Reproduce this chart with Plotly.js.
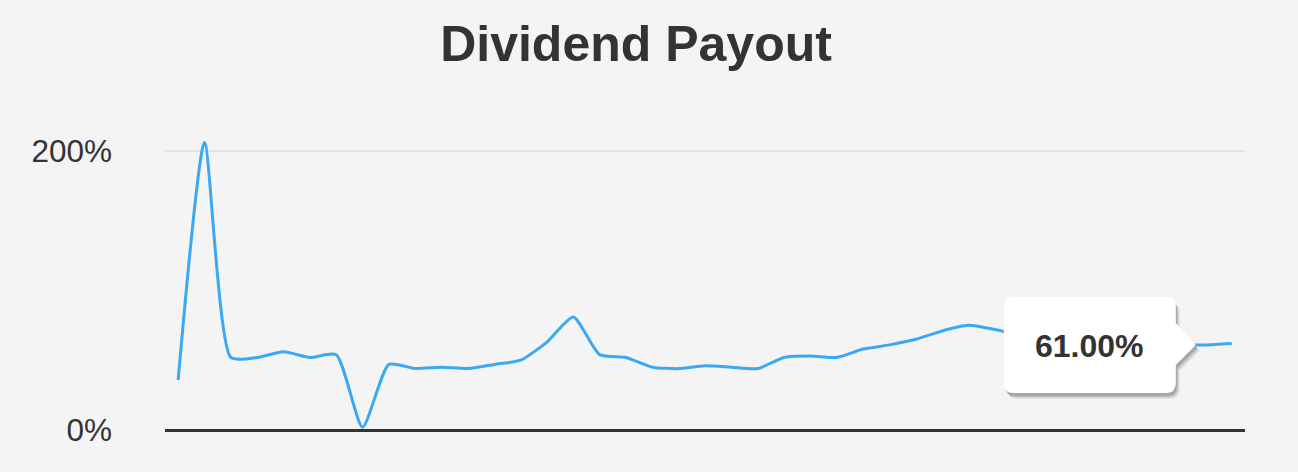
<!DOCTYPE html>
<html>
<head>
<meta charset="utf-8">
<script src="https://cdn.plot.ly/plotly-3.0.1.min.js"></script>
<style>
  html, body { margin: 0; padding: 0; background: #f4f4f4; }
  #chart { width: 1298px; height: 472px; }
</style>
</head>
<body>
<div id="chart"></div>
<script>
// ---- data ----
const periods = [
  "2014Q1","2014Q2","2014Q3","2014Q4","2015Q1","2015Q2","2015Q3","2015Q4",
  "2016Q1","2016Q2","2016Q3","2016Q4","2017Q1","2017Q2","2017Q3","2017Q4",
  "2018Q1","2018Q2","2018Q3","2018Q4","2019Q1","2019Q2","2019Q3","2019Q4",
  "2020Q1","2020Q2","2020Q3","2020Q4","2021Q1","2021Q2","2021Q3","2021Q4",
  "2022Q1","2022Q2","2022Q3","2022Q4","2023Q1","2023Q2","2023Q3","2023Q4",
  "2024Q1"
];
const payoutPct = [
  36, 206, 52, 52, 56, 52, 54, 2, 47, 44,
  45, 44, 47, 50, 63, 81, 54, 52, 45, 44,
  46, 45, 44, 52, 53, 52, 58, 61, 65, 71,
  75, 72, 68, 66, 65, 64, 63, 62, 61, 61,
  62
];
const yTickVals = [0, 200];
const yTickText = ["0%", "200%"];
const calloutValue = 61;
const calloutText = "61.00%";

// ---- callout shape (pixel offsets relative to the data anchor) ----
function calloutPath(dx, dy) {
  const L = -228 + dx, R = -56 + dx, T = 48 + dy, B = -48 + dy, r = 10;
  const tipX = -36 + dx, tipY = 0 + dy;
  return "M" + (L + r) + "," + T +
    " L" + (R - r) + "," + T +
    " Q" + R + "," + T + " " + R + "," + (T - r) +
    " L" + R + "," + (22 + dy) +
    " L" + tipX + "," + tipY +
    " L" + R + "," + (-20 + dy) +
    " L" + R + "," + (B + r) +
    " Q" + R + "," + B + " " + (R - r) + "," + B +
    " L" + (L + r) + "," + B +
    " Q" + L + "," + B + " " + L + "," + (B + r) +
    " L" + L + "," + (T - r) +
    " Q" + L + "," + T + " " + (L + r) + "," + T + " Z";
}
const anchorX = periods[periods.length - 1];
const shadowLayers = [
  {dx: 4, dy: -6, op: 0.06},
  {dx: 3, dy: -5, op: 0.08},
  {dx: 2, dy: -4, op: 0.10},
  {dx: 1, dy: -3, op: 0.12}
];
const shapes = shadowLayers.map(s => ({
  type: "path", xref: "x", yref: "y",
  xsizemode: "pixel", ysizemode: "pixel",
  xanchor: anchorX, yanchor: calloutValue,
  path: calloutPath(s.dx, s.dy),
  fillcolor: "rgba(0,0,0," + s.op + ")",
  line: {width: 0}, layer: "above"
}));
shapes.push({
  type: "path", xref: "x", yref: "y",
  xsizemode: "pixel", ysizemode: "pixel",
  xanchor: anchorX, yanchor: calloutValue,
  path: calloutPath(0, 0),
  fillcolor: "#ffffff",
  line: {width: 0}, layer: "above"
});

const trace = {
  x: periods,
  y: payoutPct,
  type: "scatter",
  mode: "lines",
  line: {color: "#3aa8f4", width: 3, shape: "spline", smoothing: 0.6},
  hoverinfo: "skip"
};

const layout = {
  width: 1298, height: 472,
  paper_bgcolor: "#f4f4f4",
  plot_bgcolor: "#f4f4f4",
  margin: {l: 165, r: 53, t: 130, b: 42},
  showlegend: false,
  title: {
    text: "<b>Dividend Payout</b>",
    font: {family: "Liberation Sans, Arial, sans-serif", size: 50, color: "#333333"},
    x: 0.49, xref: "container", xanchor: "center",
    y: 0.908, yref: "container", yanchor: "middle"
  },
  xaxis: {
    type: "category",
    range: [-0.5, periods.length - 0.5],
    showticklabels: false, showgrid: false, zeroline: false,
    showline: false, ticks: "", fixedrange: true
  },
  yaxis: {
    range: [0, 215],
    tickvals: yTickVals, ticktext: yTickText,
    tickfont: {family: "Liberation Sans, Arial, sans-serif", size: 31.5, color: "#333333"},
    ticklabelstandoff: 52,
    showgrid: true, gridcolor: "#e3e3e3", gridwidth: 2,
    zeroline: true, zerolinecolor: "#333333", zerolinewidth: 3,
    showline: false, ticks: "", fixedrange: true
  },
  shapes: shapes,
  annotations: [{
    xref: "x", yref: "y", x: anchorX, y: calloutValue,
    xshift: -142, yshift: -1,
    text: "<b>" + calloutText + "</b>",
    showarrow: false,
    font: {family: "Liberation Sans, Arial, sans-serif", size: 32, color: "#333333"},
    xanchor: "center", yanchor: "middle"
  }]
};

Plotly.newPlot("chart", [trace], layout, {displayModeBar: false, staticPlot: true});
</script>
</body>
</html>
